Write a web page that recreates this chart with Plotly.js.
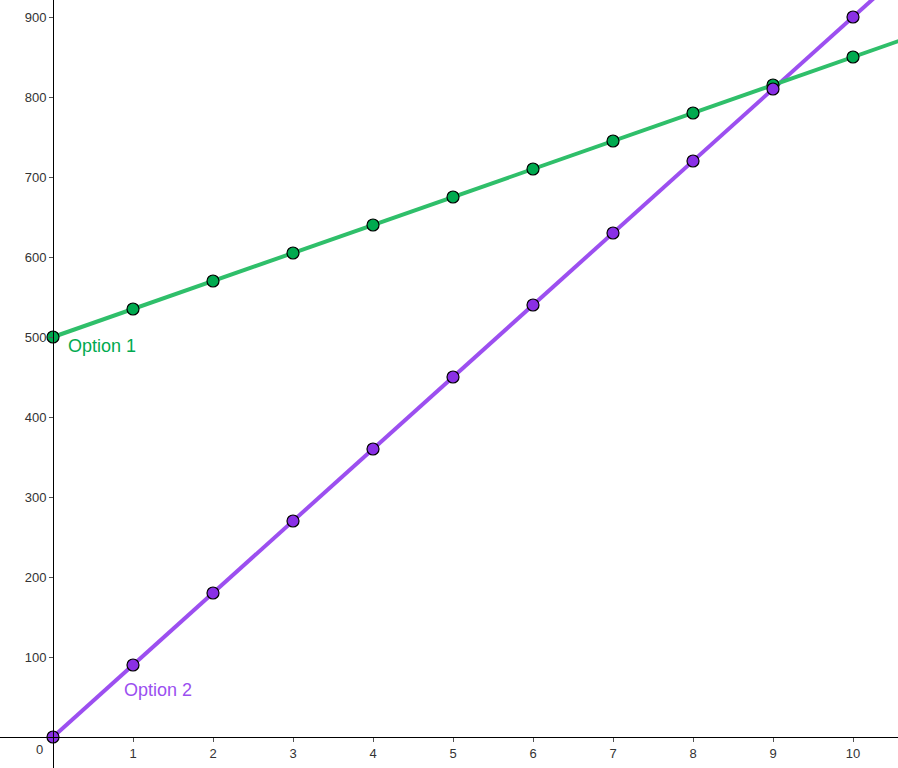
<!DOCTYPE html>
<html>
<head>
<meta charset="utf-8">
<script src="https://cdn.plot.ly/plotly-3.0.1.min.js"></script>
<style>html,body{margin:0;padding:0;background:#fff;}#chart{width:898px;height:768px;}</style>
</head>
<body>
<div id="chart"></div>
<script>
// Data
const months = [0, 1, 2, 3, 4, 5, 6, 7, 8, 9, 10];
const option1 = [500, 535, 570, 605, 640, 675, 710, 745, 780, 815, 850];
const option2 = [0, 90, 180, 270, 360, 450, 540, 630, 720, 810, 900];
// line extensions (beyond the last point)
const lineX = [0, 11];
const option1Line = [500, 885];
const option2Line = [0, 990];
const xTicks = [1, 2, 3, 4, 5, 6, 7, 8, 9, 10];
const yTicks = [100, 200, 300, 400, 500, 600, 700, 800, 900];
const seriesNames = ["Option 1", "Option 2"];

const green = "#2fbf6a", greenDot = "#00aa4f";
const purple = "#9c4ff0", purpleDot = "#8a2fe6";

const xRange = [-0.6625, 10.5625];
const yRange = [-38.75, 921.25];

const traces = [
  {x: lineX, y: option2Line, mode: "lines", line: {color: purple, width: 4}, hoverinfo: "skip"},
  {x: lineX, y: option1Line, mode: "lines", line: {color: green, width: 4}, hoverinfo: "skip"},
  {x: months, y: option1, mode: "markers", name: seriesNames[0],
   marker: {color: greenDot, size: 12, line: {color: "#000", width: 1.2}}},
  {x: months, y: option2, mode: "markers", name: seriesNames[1],
   marker: {color: purpleDot, size: 12, line: {color: "#000", width: 1.2}}}
];

const axisFont = {family: "Liberation Sans, Arial, sans-serif", size: 13, color: "#333"};
const layout = {
  width: 898, height: 768,
  margin: {l: 0, r: 0, t: 0, b: 0},
  paper_bgcolor: "#fff", plot_bgcolor: "#fff",
  showlegend: false,
  xaxis: {
    range: xRange, anchor: "free", position: -yRange[0] / (yRange[1] - yRange[0]),
    showgrid: false, zeroline: false, showline: true, linecolor: "#000", linewidth: 1,
    tickvals: xTicks, ticktext: xTicks.map(String), ticks: "outside", ticklen: 4, tickcolor: "#555",
    tickfont: axisFont, fixedrange: true
  },
  yaxis: {
    range: yRange, anchor: "free", position: -xRange[0] / (xRange[1] - xRange[0]),
    showgrid: false, zeroline: false, showline: true, linecolor: "#000", linewidth: 1,
    tickvals: yTicks, ticktext: yTicks.map(String), ticks: "outside", ticklen: 4, tickcolor: "#555",
    tickfont: axisFont, fixedrange: true
  },
  annotations: [
    {x: -0.17, y: -16, xref: "x", yref: "y", text: "0", showarrow: false,
     xanchor: "center", yanchor: "middle", font: axisFont},
    {x: 0.165, y: 489, xref: "x", yref: "y", text: seriesNames[0], showarrow: false,
     xanchor: "left", yanchor: "middle",
     font: {family: "Liberation Sans, Arial, sans-serif", size: 18, color: "#00aa4f"}},
    {x: 0.86, y: 59, xref: "x", yref: "y", text: seriesNames[1], showarrow: false,
     xanchor: "left", yanchor: "middle",
     font: {family: "Liberation Sans, Arial, sans-serif", size: 18, color: "#9b4ff0"}}
  ]
};

Plotly.newPlot("chart", traces, layout, {staticPlot: true, displayModeBar: false});
</script>
</body>
</html>
